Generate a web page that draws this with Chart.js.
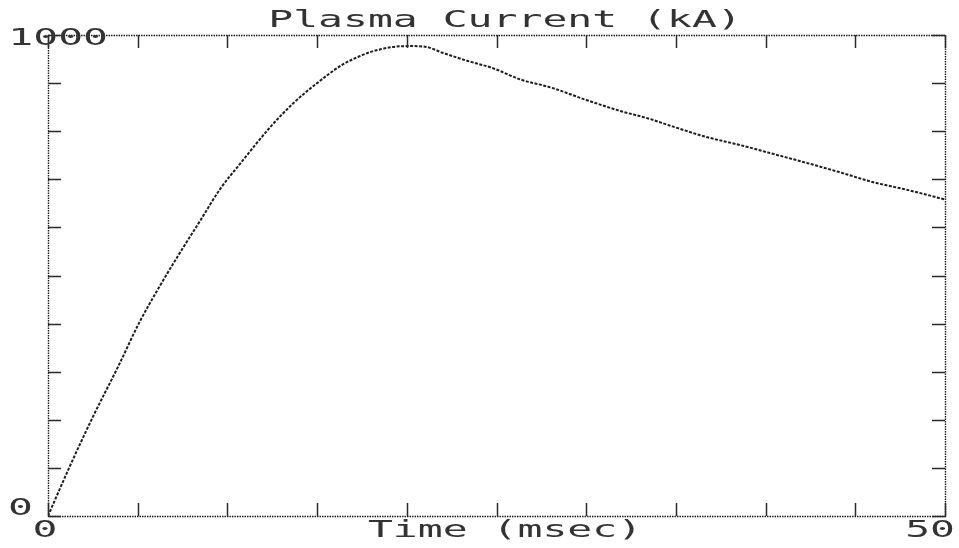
<!DOCTYPE html>
<html>
<head>
<meta charset="utf-8">
<script src="https://cdn.jsdelivr.net/npm/chart.js@4/dist/chart.umd.min.js"></script>
<style>
  html, body { margin: 0; padding: 0; background: #ffffff; }
  #wrap { width: 959px; height: 548px; position: relative; }
</style>
</head>
<body>
<div id="wrap"><canvas id="c" width="959" height="548"></canvas></div>
<script>
// ---- data ----
const timeMs = [0, 1.2, 2.5, 3.9, 5.1, 6.2, 7.2, 8.5, 9.6, 10.7, 12.4, 13.7, 15.0, 16.4, 17.5, 18.1, 19.2, 20.2, 21.1, 22.0, 23.4, 24.8, 26.3, 28.1, 30.0, 31.9, 33.5, 34.8, 36.7, 38.6, 40.4, 42.3, 44.1, 46.0, 47.9, 50.0];
const currentKA = [0, 102, 206, 310, 403, 476, 538, 615, 680, 732, 809, 859, 900, 938, 958, 966, 975, 977, 975, 963, 946, 931, 908, 890, 865, 842, 826, 810, 788, 771, 753, 734, 715, 694, 678, 658];

const xTickValues = [0, 5, 10, 15, 20, 25, 30, 35, 40, 45, 50];
const yTickValues = [0, 100, 200, 300, 400, 500, 600, 700, 800, 900, 1000];
const xTickLabels = ["0", "50"];      // shown at x = 0 and x = 50
const yTickLabels = ["0", "1000"];    // shown at y = 0 and y = 1000
const chartTitle = "Plasma Current (kA)";
const xAxisTitle = "Time (msec)";

const points = timeMs.map((t, i) => ({ x: t, y: currentKA[i] }));

const INK = '#333333';
const FONT = '23px "DejaVu Sans Mono", monospace';

function stretchedText(ctx, text, x, y, align, sx) {
  ctx.save();
  ctx.font = FONT;
  ctx.fillStyle = INK;
  ctx.textBaseline = 'alphabetic';
  ctx.textAlign = align;
  ctx.translate(x, y);
  ctx.scale(sx, 1);
  ctx.fillText(text, 0, 0);
  ctx.restore();
}

const framePlugin = {
  id: 'frame',
  afterDraw(chart) {
    const ctx = chart.ctx;
    const a = chart.chartArea;
    const xs = chart.scales.x, ys = chart.scales.y;
    ctx.save();
    // dotted frame
    ctx.strokeStyle = '#1a1a1a';
    ctx.lineWidth = 1.4;
    ctx.setLineDash([1.5, 1]);
    ctx.strokeRect(a.left + 0.5, a.top + 0.5, a.right - a.left, a.bottom - a.top);
    ctx.restore();

    // inward ticks
    ctx.save();
    ctx.strokeStyle = '#2a2a2a';
    ctx.lineWidth = 1.5;
    ctx.setLineDash([]);
    const L = 13;
    ctx.beginPath();
    xTickValues.forEach(v => {
      const px = Math.round(xs.getPixelForValue(v)) + 0.5;
      ctx.moveTo(px, a.top); ctx.lineTo(px, a.top + L);
      ctx.moveTo(px, a.bottom); ctx.lineTo(px, a.bottom - L);
    });
    yTickValues.forEach(v => {
      const py = Math.round(ys.getPixelForValue(v)) + 0.5;
      ctx.moveTo(a.left, py); ctx.lineTo(a.left + L, py);
      ctx.moveTo(a.right, py); ctx.lineTo(a.right - L, py);
    });
    ctx.stroke();
    ctx.restore();

    const sx = 1.8;
    // title
    stretchedText(ctx, chartTitle, 505, 27, 'center', sx);
    // y labels
    stretchedText(ctx, yTickLabels[1], 108, ys.getPixelForValue(1000) + 10, 'right', sx);
    stretchedText(ctx, yTickLabels[0], 33, ys.getPixelForValue(0) - 1, 'right', sx);
    // x labels
    stretchedText(ctx, xTickLabels[0], xs.getPixelForValue(0) - 3, 537, 'center', sx);
    stretchedText(ctx, xTickLabels[1], xs.getPixelForValue(50) + 10, 537, 'right', sx);
    stretchedText(ctx, xAxisTitle, 505, 537, 'center', sx);
  }
};

new Chart(document.getElementById('c'), {
  type: 'line',
  data: {
    datasets: [{
      data: points,
      borderColor: '#1e1e1e',
      borderWidth: 2,
      borderDash: [3, 1.5],
      pointRadius: 0,
      fill: false,
      cubicInterpolationMode: 'monotone'
    }]
  },
  options: {
    responsive: false,
    animation: false,
    devicePixelRatio: 1,
    layout: { padding: { left: 48, top: 35, right: 14, bottom: 32 } },
    plugins: { legend: { display: false }, tooltip: { enabled: false }, title: { display: false } },
    scales: {
      x: { type: 'linear', min: 0, max: 50, display: false },
      y: { type: 'linear', min: 0, max: 1000, display: false }
    }
  },
  plugins: [framePlugin]
});
</script>
</body>
</html>
